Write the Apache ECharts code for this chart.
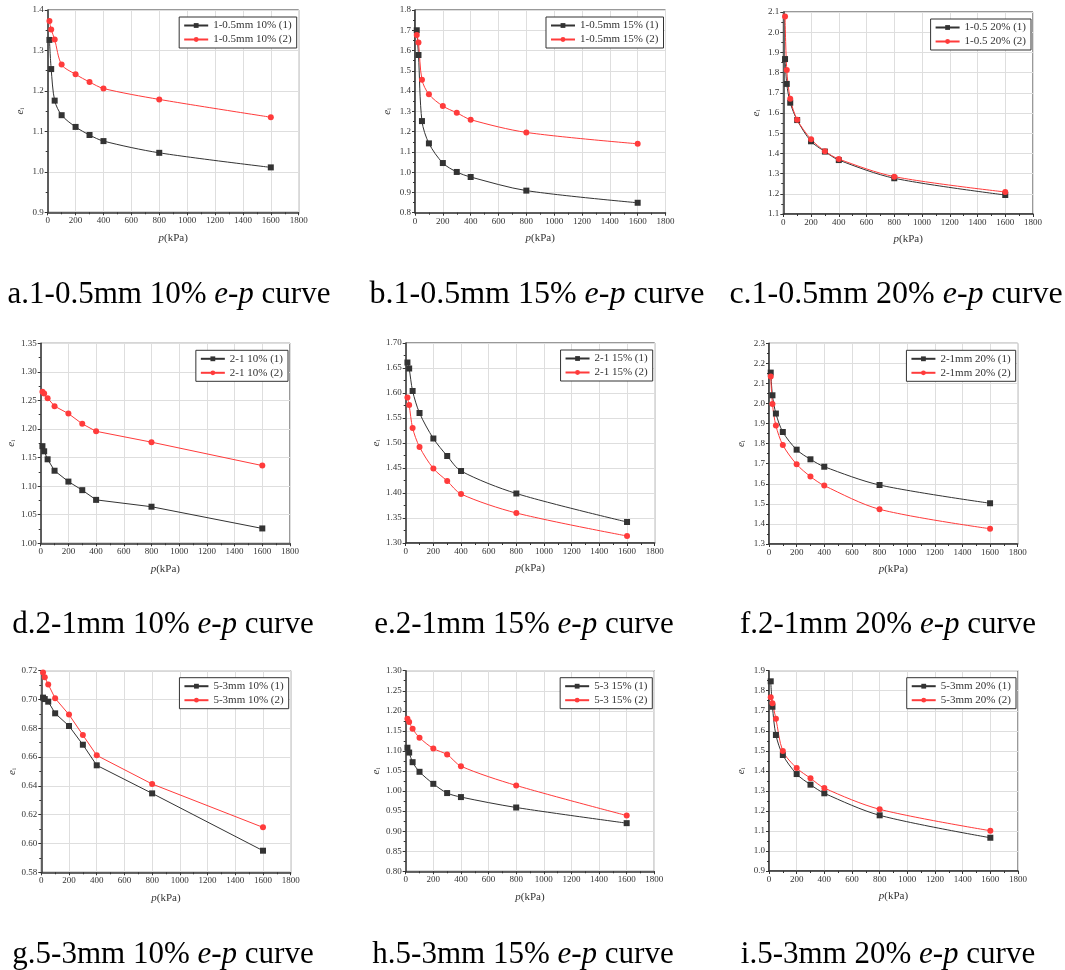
<!DOCTYPE html>
<html>
<head>
<meta charset="utf-8">
<title>e-p curves</title>
<script src="https://cdn.jsdelivr.net/npm/echarts@6/dist/echarts.min.js"></script>
<style>
  html, body { margin: 0; padding: 0; background: #fff; }
  #main { width: 1065px; height: 970px; }
</style>
</head>
<body>
<div id="main"></div>
<script>
// load steps (kPa), same for every test
var pressure = [12.5, 25, 50, 100, 200, 300, 400, 800, 1600];

// a. 1-0.5mm 10%
var a1 = [1.326, 1.254, 1.176, 1.140, 1.111, 1.091, 1.076, 1.047, 1.011];
var a2 = [1.373, 1.352, 1.327, 1.265, 1.241, 1.222, 1.206, 1.179, 1.135];
// b. 1-0.5mm 15%
var b1 = [1.700, 1.578, 1.252, 1.142, 1.045, 1.001, 0.976, 0.909, 0.849];
var b2 = [1.677, 1.640, 1.456, 1.384, 1.326, 1.293, 1.259, 1.196, 1.140];
// c. 1-0.5mm 20%
var c1 = [1.867, 1.744, 1.651, 1.565, 1.460, 1.409, 1.367, 1.277, 1.194];
var c2 = [2.078, 1.813, 1.671, 1.567, 1.470, 1.411, 1.372, 1.285, 1.209];
// d. 2-1mm 10%
var d1 = [1.170, 1.161, 1.147, 1.127, 1.108, 1.093, 1.076, 1.064, 1.026];
var d2 = [1.265, 1.262, 1.254, 1.240, 1.227, 1.209, 1.196, 1.177, 1.136];
// e. 2-1mm 15%
var e1 = [1.661, 1.649, 1.604, 1.560, 1.509, 1.474, 1.444, 1.399, 1.342];
var e2 = [1.591, 1.576, 1.530, 1.492, 1.449, 1.424, 1.398, 1.360, 1.314];
// f. 2-1mm 20%
var f1 = [2.154, 2.041, 1.950, 1.858, 1.770, 1.722, 1.685, 1.594, 1.503];
var f2 = [2.134, 1.998, 1.890, 1.793, 1.697, 1.636, 1.591, 1.473, 1.376];
// g. 5-3mm 10%
var g1 = [0.7013, 0.7003, 0.6985, 0.6904, 0.6816, 0.6686, 0.6543, 0.6348, 0.5950];
var g2 = [0.7188, 0.7154, 0.7105, 0.7008, 0.6895, 0.6753, 0.6612, 0.6413, 0.6112];
// h. 5-3mm 15%
var h1 = [1.108, 1.096, 1.072, 1.048, 1.018, 0.995, 0.985, 0.959, 0.920];
var h2 = [1.180, 1.172, 1.155, 1.133, 1.106, 1.091, 1.062, 1.014, 0.939];
// i. 5-3mm 20%
var i1 = [1.847, 1.720, 1.579, 1.479, 1.384, 1.331, 1.288, 1.178, 1.066];
var i2 = [1.767, 1.737, 1.660, 1.499, 1.414, 1.363, 1.314, 1.208, 1.101];

var captions = ['a.1-0.5mm 10% ', 'b.1-0.5mm 15% ', 'c.1-0.5mm 20% ',
                'd.2-1mm 10% ', 'e.2-1mm 15% ', 'f.2-1mm 20% ',
                'g.5-3mm 10% ', 'h.5-3mm 15% ', 'i.5-3mm 20% '];
var legendNames = ['1-0.5mm 10%', '1-0.5mm 15%', '1-0.5 20%',
                   '2-1 10%', '2-1 15%', '2-1mm 20%',
                   '5-3mm 10%', '5-3 15%', '5-3mm 20%'];
var yMin = [0.9, 0.8, 1.1, 1.00, 1.30, 1.3, 0.58, 0.80, 0.9];
var yMax = [1.4, 1.8, 2.1, 1.35, 1.70, 2.3, 0.72, 1.30, 1.9];
var yStep = [0.1, 0.1, 0.1, 0.05, 0.05, 0.1, 0.02, 0.05, 0.1];
var yDigits = [1, 1, 1, 2, 2, 1, 2, 2, 1];
var series1 = [a1, b1, c1, d1, e1, f1, g1, h1, i1];
var series2 = [a2, b2, c2, d2, e2, f2, g2, h2, i2];
// d and g look like plain polylines, the rest are splined
var curved = [true, true, true, false, true, true, false, true, true];

// plot boxes [left, top, width, height]
var boxes = [
  [47.7, 10, 251, 202.3], [415, 10, 250.5, 202.7], [783.3, 12, 249.7, 202],
  [40.7, 343.3, 249.3, 200], [405.7, 343, 249, 200], [769, 343.3, 248.7, 200.7],
  [41.3, 670.7, 249.4, 201.6], [405.7, 670.7, 248.6, 200.6], [769, 670.7, 249, 200.3]
];
// caption centres and sizes (top row is printed a bit larger)
var capPos = [[164, 292], [532, 292], [891, 292],
              [158, 622], [519, 622], [883, 622],
              [158, 952], [518, 952], [883, 952]];
var capSize = [31, 32, 32, 31, 31, 31, 31, 31, 31];

var serif = '"Liberation Serif", "DejaVu Serif", serif';
var dark = '#333333';
var red = '#ff3b3b';

var chart = echarts.init(document.getElementById('main'), null, {renderer: 'canvas'});

var grids = [], xAxes = [], yAxes = [], series = [], legends = [], titles = [];

function pts(vals){
  return pressure.map(function(p, k){ return [p, vals[k]]; });
}

for (var n = 0; n < 9; n++) {
  var b = boxes[n];
  grids.push({
    left: b[0], top: b[1], width: b[2], height: b[3],
    show: true, borderColor: dark, borderWidth: 1, backgroundColor: '#fff'
  });

  xAxes.push({
    gridIndex: n, type: 'value', min: 0, max: 1800, interval: 200,
    name: '{i|p}(kPa)', nameLocation: 'middle', nameGap: 20,
    nameTextStyle: {
      fontFamily: serif, fontSize: 11, color: dark,
      rich: { i: {fontFamily: serif, fontSize: 11, fontStyle: 'italic', color: dark} }
    },
    axisLine: {show: true, onZero: false, lineStyle: {color: dark, width: 1.5}},
    axisTick: {show: true, length: 3, lineStyle: {color: dark}},
    minorTick: {show: true, splitNumber: 2, length: 2, lineStyle: {color: dark}},
    axisLabel: {
      fontFamily: serif, fontSize: 9, color: dark, margin: 4,
      formatter: function(v){ return String(v); }
    },
    splitLine: {show: true, lineStyle: {color: '#dedede', width: 1}}
  });

  (function(d){
    yAxes.push({
      gridIndex: n, type: 'value', min: yMin[n], max: yMax[n], interval: yStep[n],
      name: '{e|e}{s|i}', nameLocation: 'middle', nameGap: 22, nameRotate: 90,
      nameTextStyle: {
        color: dark,
        rich: {
          e: {fontFamily: serif, fontSize: 11, fontStyle: 'italic', color: dark},
          s: {fontFamily: serif, fontSize: 7, color: dark, verticalAlign: 'bottom'}
        }
      },
      axisLine: {show: true, onZero: false, lineStyle: {color: dark, width: 1.5}},
      axisTick: {show: true, length: 3, lineStyle: {color: dark}},
      minorTick: {show: true, splitNumber: 2, length: 2, lineStyle: {color: dark}},
      axisLabel: {
        fontFamily: serif, fontSize: 9, color: dark, margin: 4,
        formatter: function(v){ return v.toFixed(d); }
      },
      splitLine: {show: true, lineStyle: {color: '#dedede', width: 1}}
    });
  })(yDigits[n]);

  var nm1 = legendNames[n] + ' (1)', nm2 = legendNames[n] + ' (2)';

  series.push({
    name: nm1, type: 'line', xAxisIndex: n, yAxisIndex: n,
    data: pts(series1[n]), smooth: curved[n] ? 0.3 : false,
    symbol: 'rect', symbolSize: 6, showAllSymbol: true,
    lineStyle: {color: dark, width: 1},
    itemStyle: {color: dark}
  });
  series.push({
    name: nm2, type: 'line', xAxisIndex: n, yAxisIndex: n,
    data: pts(series2[n]), smooth: curved[n] ? 0.3 : false,
    symbol: 'circle', symbolSize: 6, showAllSymbol: true,
    lineStyle: {color: red, width: 1},
    itemStyle: {color: red}
  });

  legends.push({
    data: [nm1, nm2], orient: 'vertical',
    right: 1065 - (b[0] + b[2]) + 2, top: b[1] + 7,
    backgroundColor: '#fff', borderColor: dark, borderWidth: 1,
    padding: [3, 5, 3, 4], itemGap: 3, itemWidth: 24, itemHeight: 6,
    selectedMode: false,
    textStyle: {fontFamily: serif, fontSize: 11, color: dark}
  });

  var fs = capSize[n];
  titles.push({
    text: '{n|' + captions[n] + '}{i|e-p}{n| curve}',
    left: capPos[n][0], top: capPos[n][1] - fs * 0.57, textAlign: 'center',
    textStyle: {
      fontWeight: 'normal',
      rich: {
        n: {fontFamily: serif, fontSize: fs, fontWeight: 'normal', color: '#000'},
        i: {fontFamily: serif, fontSize: fs, fontWeight: 'normal', fontStyle: 'italic', color: '#000'}
      }
    }
  });
}

chart.setOption({
  backgroundColor: '#fff',
  animation: false,
  title: titles,
  legend: legends,
  grid: grids,
  xAxis: xAxes,
  yAxis: yAxes,
  series: series
});
</script>
</body>
</html>
